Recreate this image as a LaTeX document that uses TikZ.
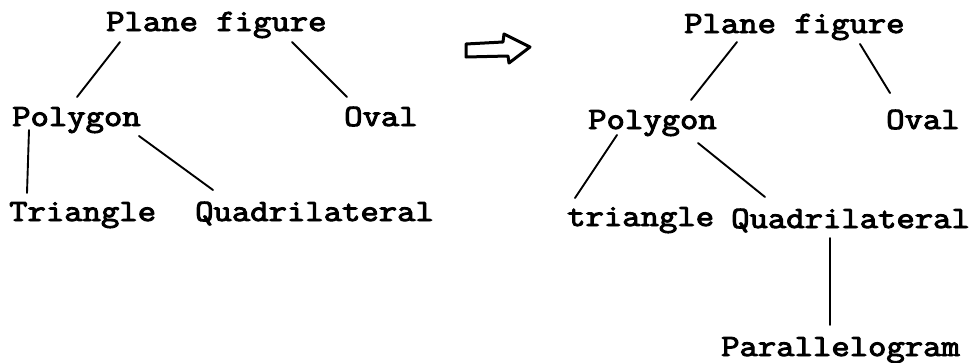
\documentclass[tikz,border=0pt]{standalone}
\usepackage{fontspec}
\newfontfamily\heavytt{Latin Modern Mono}[FakeBold=3]
\usetikzlibrary{calc}
\tikzset{
  lbl/.style={anchor=base west, inner sep=0pt, text height=18pt, text depth=6pt,
    font=\fontsize{31}{31}\heavytt\selectfont},
  conn/.style={line width=1.9pt, line cap=round},
  bigarrow/.style={line width=3pt, line join=round, fill=white}
}
\newcommand{\wtxt}[1]{\scalebox{1.15}[1]{#1}}
\begin{document}
\begin{tikzpicture}[x=1pt,y=-1pt]
\useasboundingbox[fill=white] (0,0) rectangle (973,362);
% left tree
\node[lbl] (pf1) at (106,31) {\wtxt{Plane figure}};
\node[lbl] (poly1) at (12,126) {\wtxt{Polygon}};
\node[lbl] (oval1) at (344,126) {\wtxt{Oval}};
\node[lbl] (tri1) at (9,221) {\wtxt{Triangle}};
\node[lbl] (quad1) at (195,221) {\wtxt{Quadrilateral}};
\draw[conn] ($(pf1.base west)+(14,11)$) -- ($(poly1.base west)+(65,-29)$);
\draw[conn] ($(pf1.base west)+(186,11)$) -- ($(oval1.base west)+(3,-29)$);
\draw[conn] ($(poly1.base west)+(17,4)$) -- ($(tri1.base west)+(18,-28)$);
\draw[conn] ($(poly1.base west)+(127,10)$) -- ($(quad1.base west)+(18,-31)$);
% arrow
\draw[bigarrow] (466,44) -- (503,42) -- (504,34) -- (530,47) -- (509,63) -- (508,56) -- (466,57) -- cycle;
% right tree
\node[lbl] (pf2) at (684,33) {\wtxt{Plane figure}};
\node[lbl] (poly2) at (588,129) {\wtxt{Polygon}};
\node[lbl] (oval2) at (886,129) {\wtxt{Oval}};
\node[lbl] (tri2) at (567,226) {\wtxt{triangle}};
\node[lbl] (quad2) at (731,228) {\wtxt{Quadrilateral}};
\node[lbl] (para) at (721,356) {\wtxt{Parallelogram}};
\draw[conn] ($(pf2.base west)+(53,9)$) -- ($(poly2.base west)+(103,-29)$);
\draw[conn] ($(pf2.base west)+(176,11)$) -- ($(oval2.base west)+(4,-36)$);
\draw[conn] ($(poly2.base west)+(29,6)$) -- ($(tri2.base west)+(8,-28)$);
\draw[conn] ($(poly2.base west)+(110,14)$) -- ($(quad2.base west)+(34,-31)$);
\draw[conn] ($(quad2.base west)+(99,10)$) -- ($(para.base west)+(109,-31)$);
\end{tikzpicture}
\end{document}
